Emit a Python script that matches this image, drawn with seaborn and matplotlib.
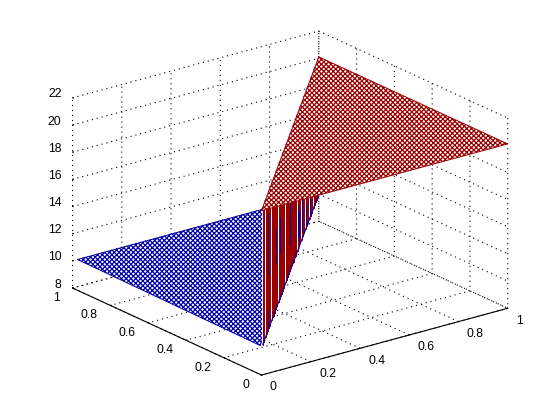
import matplotlib
matplotlib.use('Agg')
import matplotlib.pyplot as plt
import seaborn as sns
from mpl_toolkits.mplot3d.art3d import Poly3DCollection

# corners of the two flat sheets
low_x = [0.02, 0.01, 1]
low_y = [1, 0.02, 1]
low_z = [10, 10, 10]
high_x = [0, 1, 1]
high_y = [0, 0, 1]
high_z = [20.1, 20.1, 20.1]

# strands of the fold along x = y, position along the diagonal
fold_red = [0.02, 0.03, 0.04, 0.07, 0.08, 0.09, 0.11, 0.12, 0.13, 0.14, 0.18, 0.19, 0.2, 0.21,
            0.22, 0.23, 0.24, 0.25, 0.26, 0.27, 0.30, 0.31, 0.32, 0.33, 0.34, 0.35, 0.36, 0.37,
            0.38, 0.39, 0.43, 0.44, 0.46, 0.47, 0.48, 0.5, 0.52, 0.54, 0.55, 0.56, 0.57, 0.59,
            0.6, 0.61, 0.63, 0.64, 0.66, 0.68, 0.7, 0.71, 0.73, 0.75, 0.77, 0.79, 0.8, 0.82,
            0.84, 0.86, 0.88, 0.89, 0.91, 0.93, 0.95, 0.96, 0.98, 1.0]
# blue strand pieces: position, lower z, upper z
fold_blue_t = [0.11, 0.11, 0.25, 0.32, 0.5, 0.63, 0.66, 0.71, 0.77, 0.84]
fold_blue_lo = [10.2, 14.2, 13.4, 13.4, 12.0, 11.0, 10.4, 10.6, 10.3, 10.3]
fold_blue_hi = [11.5, 18.6, 16.0, 16.0, 15.0, 13.3, 12.6, 13.0, 11.8, 12.0]

xy_ticks = [0, 0.2, 0.4, 0.6, 0.8, 1]
xy_labels = ['0', '0.2', '0.4', '0.6', '0.8', '1']
z_ticks = [8, 10, 12, 14, 16, 18, 20, 22]

BLUE = '#0000a8'
RED = '#9a0000'

sns.set_style("white")
plt.rcParams['font.family'] = ['Liberation Sans', 'DejaVu Sans']
plt.rcParams['hatch.linewidth'] = 0.9

fig = plt.figure(figsize=(5.6, 4.2), dpi=100)
ax = fig.add_axes([0.008, 0.003, 1.0, 1.0], projection='3d', computed_zorder=False)
ax.set_proj_type('ortho')
ax.view_init(elev=20.7, azim=-127.5)
ax.set_box_aspect((1, 1, 0.655), zoom=1.118)


def sheet(xs, ys, zs, color, order):
    verts = [list(zip(xs, ys, zs))]
    poly = Poly3DCollection(verts, facecolor='white', edgecolor=color, hatch='xxxxxxx',
                            linewidth=0.7, zorder=order, clip_on=False)
    ax.add_collection3d(poly)


sheet(low_x, low_y, low_z, BLUE, 1)

# white backing of the fold, hides the blue sheet behind it
wall = Poly3DCollection([[(0.01, 0.01, 10), (1, 1, 10), (1, 1, 20), (0.01, 0.01, 20)]],
                        facecolor='white', edgecolor='none', zorder=2, clip_on=False)
ax.add_collection3d(wall)
for t in fold_red:
    ax.plot([t, t], [t, t], [10, 20], color=RED, lw=0.7, zorder=3, antialiased=False)
for t, lo, hi in zip(fold_blue_t, fold_blue_lo, fold_blue_hi):
    ax.plot([t, t], [t, t], [lo, hi], color=BLUE, lw=0.7, zorder=3, antialiased=False)
ax.plot([0.02, 1], [0.02, 1], [10, 10], color=BLUE, lw=0.8, zorder=3)

sheet(high_x, high_y, high_z, RED, 4)
ax.plot([0, 1], [0, 1], [20.1, 20.1], color=BLUE, lw=0.9, ls=(0, (2, 6)), zorder=3.5)

ax.set_xlim(0, 1, view_margin=0)
ax.set_ylim(0, 1, view_margin=0)
ax.set_zlim(8, 22, view_margin=0)
ax.set_xticks(xy_ticks)
ax.set_xticklabels(xy_labels, ha='left', va='center')
ax.set_yticks(xy_ticks)
ax.set_yticklabels(xy_labels, ha='right', va='baseline')
ax.set_zticks(z_ticks)
ax.set_zticklabels([str(z) for z in z_ticks], ha='right', va='baseline')

for axis in (ax.xaxis, ax.yaxis, ax.zaxis):
    axis.set_pane_color((1, 1, 1, 0))
    axis.pane.set_edgecolor('none')
    axis.line.set_color('black')
    axis.line.set_linewidth(0.8)
    axis._axinfo['grid'].update(color='black', linewidth=0.8, linestyle=(0, (1, 3.5)))
    axis._axinfo['tick']['inward_factor'] = 0.0
    axis._axinfo['tick']['outward_factor'] = 0.04
ax.zaxis.line.set_linewidth(0)
ax.tick_params(labelsize=8.8, colors='black', pad=0)
ax.tick_params(axis='x', pad=-1)
ax.tick_params(axis='z', pad=-4)

fig.savefig('out.png', dpi=100, facecolor='white')
